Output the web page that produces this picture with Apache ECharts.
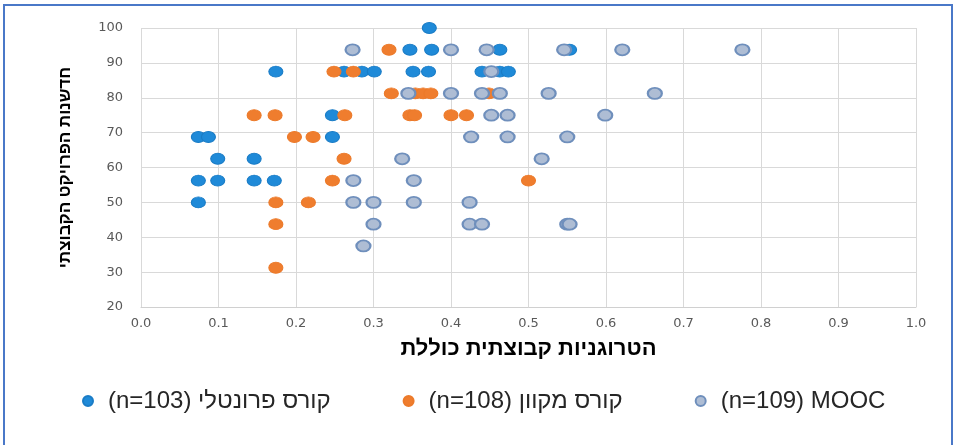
<!DOCTYPE html>
<html>
<head>
<meta charset="utf-8">
<script src="https://cdn.jsdelivr.net/npm/echarts@6/dist/echarts.min.js"></script>
<style>
  html, body { margin: 0; padding: 0; background: #fff; }
  #main { width: 957px; height: 445px; }
</style>
</head>
<body>
<div id="main"></div>
<script>
// [heterogeneity, innovation]
const frontal = [
  [0.372, 100],
  [0.347, 93.75], [0.375, 93.75], [0.463, 93.75], [0.553, 93.75],
  [0.174, 87.5], [0.262, 87.5], [0.285, 87.5], [0.301, 87.5], [0.351, 87.5],
  [0.371, 87.5], [0.440, 87.5], [0.463, 87.5], [0.474, 87.5],
  [0.247, 75],
  [0.074, 68.75], [0.087, 68.75], [0.247, 68.75],
  [0.099, 62.5], [0.146, 62.5],
  [0.074, 56.25], [0.099, 56.25], [0.146, 56.25], [0.172, 56.25],
  [0.074, 50]
];
const online = [
  [0.320, 93.75],
  [0.249, 87.5], [0.274, 87.5],
  [0.323, 81.25], [0.354, 81.25], [0.364, 81.25], [0.374, 81.25], [0.449, 81.25],
  [0.146, 75], [0.173, 75], [0.263, 75], [0.347, 75], [0.353, 75], [0.400, 75], [0.420, 75],
  [0.198, 68.75], [0.222, 68.75],
  [0.262, 62.5],
  [0.247, 56.25], [0.500, 56.25],
  [0.174, 50], [0.216, 50],
  [0.174, 43.75],
  [0.174, 31.25]
];
const mooc = [
  [0.273, 93.75], [0.400, 93.75], [0.446, 93.75], [0.546, 93.75], [0.621, 93.75], [0.776, 93.75],
  [0.452, 87.5],
  [0.345, 81.25], [0.400, 81.25], [0.440, 81.25], [0.463, 81.25], [0.526, 81.25], [0.663, 81.25],
  [0.452, 75], [0.473, 75], [0.599, 75],
  [0.426, 68.75], [0.473, 68.75], [0.550, 68.75],
  [0.337, 62.5], [0.517, 62.5],
  [0.274, 56.25], [0.352, 56.25],
  [0.274, 50], [0.300, 50], [0.352, 50], [0.424, 50],
  [0.300, 43.75], [0.424, 43.75], [0.440, 43.75], [0.550, 43.75], [0.553, 43.75],
  [0.287, 37.5]
];
const seriesNames = ['(n=103) קורס פרונטלי', '(n=108) קורס מקוון', '(n=109) MOOC'];
const xTitle = 'הטרוגניות קבוצתית כוללת';
const yTitle = 'חדשנות הפרויקט הקבוצתי';

const chart = echarts.init(document.getElementById('main'));
const font = '"Liberation Sans", sans-serif';
const tickFont = '"DejaVu Sans", sans-serif';

const option = {
  backgroundColor: '#fff',
  animation: false,
  graphic: [{
    type: 'rect',
    shape: { x: 4, y: 5, width: 948, height: 460 },
    style: { fill: 'none', stroke: '#4a78c8', lineWidth: 2 },
    silent: true
  }],
  grid: { left: 141, right: 41, top: 28, bottom: 138 },
  xAxis: {
    type: 'value',
    min: 0, max: 1, interval: 0.1,
    name: xTitle,
    nameLocation: 'middle',
    nameGap: 31,
    nameTextStyle: { fontFamily: font, fontSize: 22, fontWeight: 'bold', color: '#000' },
    axisLine: { show: true, lineStyle: { color: '#d0d0d0' } },
    axisTick: { show: false },
    splitLine: { show: true, lineStyle: { color: '#d9d9d9' } },
    axisLabel: {
      color: '#595959', fontFamily: tickFont, fontSize: 13, margin: 10,
      formatter: v => v.toFixed(1)
    }
  },
  yAxis: {
    type: 'value',
    min: 20, max: 100, interval: 10,
    name: yTitle,
    nameLocation: 'middle',
    nameRotate: 90,
    nameGap: 67,
    nameTextStyle: { fontFamily: font, fontSize: 17, fontWeight: 'bold', color: '#000' },
    axisLine: { show: false },
    axisTick: { show: false },
    splitLine: { show: true, lineStyle: { color: '#d9d9d9' } },
    axisLabel: { color: '#595959', fontFamily: tickFont, fontSize: 13, margin: 18 }
  },
  legend: {
    left: 77,
    top: 384,
    itemGap: 72,
    itemWidth: 10,
    itemHeight: 10,
    icon: 'circle',
    textStyle: { fontFamily: font, fontSize: 24, color: '#262626', padding: [0, 0, 0, 10] },
    data: seriesNames
  },
  series: [{
    name: seriesNames[0],
    type: 'scatter',
    symbolSize: [14, 11],
    itemStyle: { color: '#1f8ad8', borderColor: '#1a7cc6', borderWidth: 1, opacity: 1 },
    data: frontal
  }, {
    name: seriesNames[1],
    type: 'scatter',
    symbolSize: [14, 11],
    itemStyle: { color: '#ef7d2e', borderColor: '#ec7a2a', borderWidth: 1, opacity: 1 },
    data: online
  }, {
    name: seriesNames[2],
    type: 'scatter',
    symbolSize: [14, 11],
    itemStyle: { color: '#aebdd4', borderColor: '#6f8fbc', borderWidth: 2, opacity: 1 },
    data: mooc
  }]
};

chart.setOption(option);
</script>
</body>
</html>
